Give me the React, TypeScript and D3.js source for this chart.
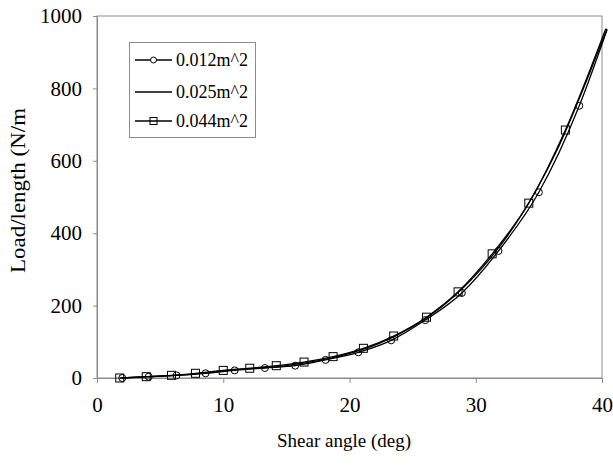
import React, { useEffect, useRef } from "react";
import * as d3 from "d3";

// shear angle (deg) / load per length (N/m)
const smallX = [2.0, 4.1, 6.3, 8.6, 10.9, 13.3, 15.7, 18.1, 20.7, 23.3, 26.0, 28.9, 31.8, 35.0, 38.2, 40.4];
const smallY = [0, 3.6, 7, 13, 21, 27.6, 34, 50, 71, 104, 160, 235, 351, 513, 752, 962];
const midX = [1.9, 4.0, 6.1, 8.2, 10.4, 12.7, 15.0, 17.4, 19.8, 22.3, 24.9, 27.6, 30.4, 33.3, 36.4, 39.5, 40.4];
const midY = [0, 3.6, 7.2, 13, 21, 27, 34, 47, 66, 95, 140, 205, 300, 433, 627, 885, 965];
const largeX = [1.8, 3.9, 5.9, 7.8, 10.0, 12.1, 14.2, 16.4, 18.7, 21.1, 23.5, 26.1, 28.6, 31.3, 34.2, 37.1, 40.3];
const largeY = [0, 3.6, 7.4, 13, 21, 27, 34, 44, 59, 82, 116, 168, 238, 343, 483, 685, 965];

const seriesNames = ["0.012m^2", "0.025m^2", "0.044m^2"];
const xTicks = [0, 10, 20, 30, 40];
const yTicks = [0, 200, 400, 600, 800, 1000];

const W = 613;
const H = 470;
const FONT = "'Liberation Serif', 'DejaVu Serif', serif";

export default function App() {
  const ref = useRef<SVGSVGElement>(null);

  useEffect(() => {
    const svg = d3.select(ref.current);
    svg.selectAll("*").remove();

    const x = d3.scaleLinear().domain([0, 40]).range([97, 602]);
    const y = d3.scaleLinear().domain([0, 1000]).range([378, 16]);
    const grey = "#8c8c8c";

    // plot frame
    svg.append("rect")
      .attr("x", x(0)).attr("y", y(1000))
      .attr("width", x(40) - x(0)).attr("height", y(0) - y(1000))
      .attr("fill", "none").attr("stroke", grey).attr("stroke-width", 1);

    const xAxis = svg.append("g")
      .attr("transform", `translate(0,${y(0)})`)
      .call(d3.axisBottom(x).tickValues(xTicks).tickSize(5).tickPadding(14).tickFormat(d3.format("d")));
    xAxis.attr("font-family", null).attr("font-size", null);
    xAxis.select(".domain").attr("stroke", grey);
    xAxis.selectAll(".tick line").attr("stroke", grey);
    xAxis.selectAll("text")
      .style("font-family", FONT).style("font-size", "21px").attr("fill", "#000");

    const yAxis = svg.append("g")
      .attr("transform", `translate(${x(0)},0)`)
      .call(d3.axisLeft(y).tickValues(yTicks).tickSize(4).tickPadding(11).tickFormat(d3.format("d")));
    yAxis.attr("font-family", null).attr("font-size", null);
    yAxis.select(".domain").attr("stroke", grey);
    yAxis.selectAll(".tick line").attr("stroke", grey);
    yAxis.selectAll("text")
      .style("font-family", FONT).style("font-size", "21px").attr("fill", "#000");

    // axis titles
    svg.append("text")
      .attr("x", 344).attr("y", 447)
      .attr("text-anchor", "middle")
      .style("font-family", FONT).style("font-size", "19px")
      .text("Shear angle (deg)");

    svg.append("text")
      .attr("transform", "translate(25,273) rotate(-90)")
      .style("font-family", FONT).style("font-size", "20px")
      .attr("textLength", 165).attr("lengthAdjust", "spacingAndGlyphs")
      .text("Load/length (N/m");

    const line = d3.line<[number, number]>()
      .x(d => x(d[0])).y(d => y(d[1]))
      .curve(d3.curveMonotoneX);

    const series = [
      { xs: smallX, ys: smallY, marker: "circle" },
      { xs: midX, ys: midY, marker: "none" },
      { xs: largeX, ys: largeY, marker: "square" },
    ];

    series.forEach(s => {
      const pts = s.xs.map((v, i) => [v, s.ys[i]] as [number, number]);
      svg.append("path")
        .attr("d", line(pts))
        .attr("fill", "none").attr("stroke", "#000").attr("stroke-width", 1.3);
      const shown = pts.filter(p => p[0] <= 40);
      if (s.marker === "circle") {
        svg.append("g").selectAll("circle").data(shown).join("circle")
          .attr("cx", d => x(d[0])).attr("cy", d => y(d[1])).attr("r", 3.5)
          .attr("fill", "none").attr("stroke", "#000").attr("stroke-width", 1);
      } else if (s.marker === "square") {
        svg.append("g").selectAll("rect").data(shown).join("rect")
          .attr("x", d => x(d[0]) - 4).attr("y", d => y(d[1]) - 4)
          .attr("width", 8).attr("height", 8)
          .attr("fill", "none").attr("stroke", "#000").attr("stroke-width", 1);
      }
    });

    // legend
    const lg = svg.append("g");
    lg.append("rect")
      .attr("x", 129.5).attr("y", 42.5).attr("width", 126).attr("height", 95)
      .attr("fill", "#fff").attr("stroke", grey);
    const rowY = [60, 92, 121];
    series.forEach((s, i) => {
      const cy = rowY[i];
      lg.append("line")
        .attr("x1", 135).attr("x2", 172).attr("y1", cy).attr("y2", cy)
        .attr("stroke", "#000").attr("stroke-width", 1.3);
      if (s.marker === "circle") {
        lg.append("circle").attr("cx", 153.5).attr("cy", cy).attr("r", 3)
          .attr("fill", "#fff").attr("stroke", "#000");
      } else if (s.marker === "square") {
        lg.append("rect").attr("x", 150).attr("y", cy - 3.5).attr("width", 7).attr("height", 7)
          .attr("fill", "none").attr("stroke", "#000");
      }
      lg.append("text")
        .attr("x", 176).attr("y", cy + 6)
        .style("font-family", FONT).style("font-size", "18px")
        .text(seriesNames[i]);
    });
  }, []);

  return (
    <svg
      ref={ref}
      width={W}
      height={H}
      style={{ position: "absolute", left: 0, top: 0, background: "#fff", display: "block" }}
    />
  );
}
